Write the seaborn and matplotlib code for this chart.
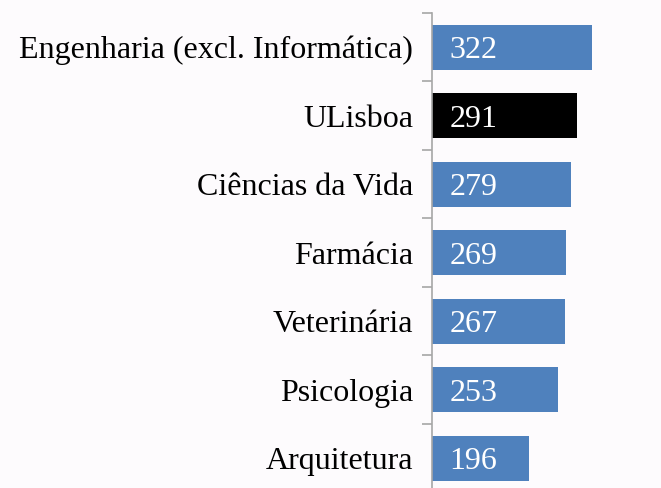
import matplotlib
matplotlib.use("Agg")
import matplotlib.pyplot as plt
import seaborn as sns
import pandas as pd
import numpy as np

categories = ["Engenharia (excl. Informática)", "ULisboa", "Ciências da Vida",
              "Farmácia", "Veterinária", "Psicologia", "Arquitetura"]
values = [322, 291, 279, 269, 267, 253, 196]
highlight = "ULisboa"

BLUE = "#4F81BD"
BLACK = "#000000"
BG = "#FDFBFD"

df = pd.DataFrame({"cat": categories, "val": values})
palette = {c: (BLACK if c == highlight else BLUE) for c in categories}

sns.set_style("white")
plt.rcParams["font.family"] = ["Liberation Serif", "DejaVu Serif"]

W, H = 661, 488
fig = plt.figure(figsize=(W / 100, H / 100), dpi=100, facecolor=BG)
left = 432 / W
top = 13 / H
ax = fig.add_axes([left, 0, 1 - left, 1 - top])
ax.set_facecolor(BG)

sns.barplot(data=df, y="cat", x="val", hue="cat", palette=palette, orient="h",
            width=0.66, dodge=False, legend=False, ax=ax, saturation=1,
            linewidth=0)

n = len(categories)
step_px = 68.5
visible_px = H - 13
ax.set_ylim(-0.5 + visible_px / step_px, -0.5)
ax.set_xlim(0, 229 / 160 * 322)

for sp in ["top", "right", "bottom"]:
    ax.spines[sp].set_visible(False)
ax.spines["left"].set_color("#A6A6A6")
ax.spines["left"].set_linewidth(1.2)

ax.set_xticks([])
ax.set_xlabel("")
ax.set_ylabel("")
ax.set_yticks(range(n))
ax.set_yticklabels(categories, fontsize=23, color="black")
ax.tick_params(axis="y", which="major", length=0, pad=13.5, left=False)
ax.set_yticks(np.arange(-0.5, n - 0.5, 1), minor=True)
ax.tick_params(axis="y", which="minor", left=True, length=7.5, width=1.2,
               color="#A6A6A6")

for i, v in enumerate(values):
    ax.annotate(str(v), xy=(0, i), xytext=(12.5, 0), textcoords="offset points",
                ha="left", va="center_baseline", color="white", fontsize=23)

fig.savefig("out.png", dpi=100, facecolor=BG)
